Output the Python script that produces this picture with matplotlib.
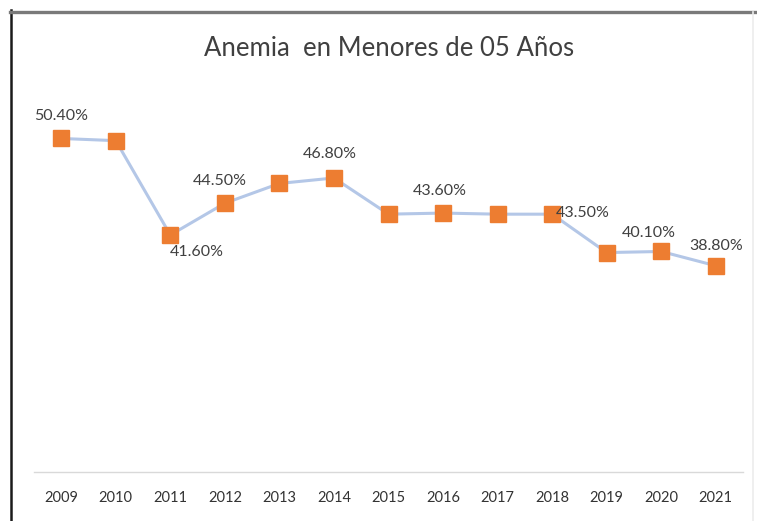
import matplotlib.pyplot as plt
from matplotlib.lines import Line2D

years = ["2009", "2010", "2011", "2012", "2013", "2014", "2015",
         "2016", "2017", "2018", "2019", "2020", "2021"]
anemia = [50.4, 50.2, 41.6, 44.5, 46.3, 46.8, 43.5,
          43.6, 43.5, 43.5, 40.0, 40.1, 38.8]
# which points carry a label, and where it sits (dx, dy in points, ha, va)
label_pos = {
    0: (0, 11, "center", "bottom"),
    2: (19, -7, "center", "top"),
    3: (-4, 11, "center", "bottom"),
    5: (-3, 12, "center", "bottom"),
    7: (-2, 11, "center", "bottom"),
    9: (3, 1, "left", "center"),
    11: (-9, 8, "center", "bottom"),
    12: (0, 9, "center", "bottom"),
}

plt.rcParams['font.family'] = ['Lato', 'DejaVu Sans']

fig = plt.figure(figsize=(7.57, 5.21), dpi=100)
ax = fig.add_axes([34 / 757, 49 / 521, 709 / 757, 384 / 521])

x = list(range(len(years)))
ax.plot(x, anemia, color='#B4C7E7', linewidth=2.2, zorder=2)
ax.plot(x, anemia, linestyle='none', marker='s', markersize=11,
        color='#ED7D31', zorder=3)

for i, (dx, dy, ha, va) in label_pos.items():
    ax.annotate(f"{anemia[i]:.2f}%", (x[i], anemia[i]),
                xytext=(dx, dy), textcoords='offset points',
                ha=ha, va=va, fontsize=11.5, color='#404040')

ax.set_xlim(-0.5, len(years) - 0.5)
ax.set_ylim(20, 55)
ax.set_xticks(x)
ax.set_xticklabels(years, fontsize=10.5, color='#333333')
ax.tick_params(axis='x', length=0, pad=14)
ax.set_yticks([])
for side in ['left', 'right', 'top']:
    ax.spines[side].set_visible(False)
ax.spines['bottom'].set_color('#D9D9D9')
ax.spines['bottom'].set_linewidth(1)

fig.text(389 / 757, 1 - 48 / 521, "Anemia  en Menores de 05 Años",
         ha='center', va='center', fontsize=18.5, color='#404040')

# chart frame: dark left edge, grey top edge, faint right edge
fig.add_artist(Line2D([11 / 757, 11 / 757], [0, 1 - 10 / 521],
                      color='#1a1a1a', linewidth=1.8, transform=fig.transFigure))
fig.add_artist(Line2D([10 / 757, 1], [1 - 11.5 / 521, 1 - 11.5 / 521],
                      color='#7a7a7a', linewidth=2.4, transform=fig.transFigure))
fig.add_artist(Line2D([753 / 757, 753 / 757], [0, 1 - 12 / 521],
                      color='#ececec', linewidth=1.2, transform=fig.transFigure))

fig.savefig("out.png", dpi=100)
